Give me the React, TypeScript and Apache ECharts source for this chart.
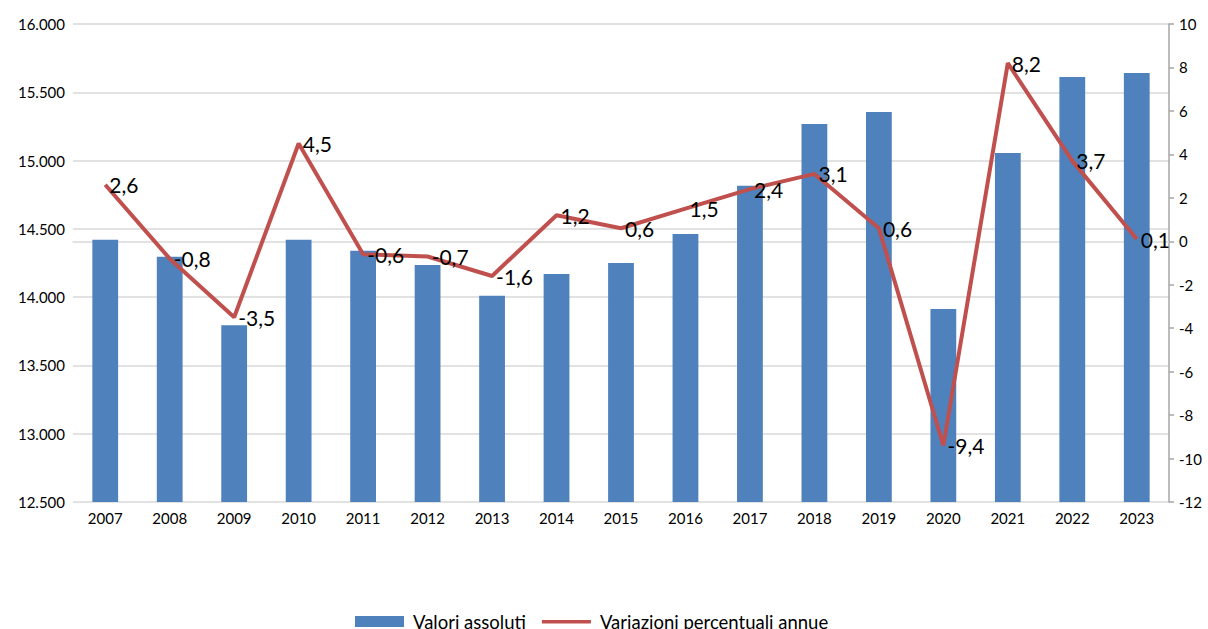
import React, { useEffect, useRef } from "react";
import * as echarts from "echarts";

const years = ["2007","2008","2009","2010","2011","2012","2013","2014","2015","2016","2017","2018","2019","2020","2021","2022","2023"];
const valoriAssoluti = [14420,14295,13795,14420,14340,14235,14010,14170,14250,14462,14815,15268,15356,13913,15055,15612,15641];
const variazioni = [2.6,-0.8,-3.5,4.5,-0.6,-0.7,-1.6,1.2,0.6,1.5,2.4,3.1,0.6,-9.4,8.2,3.7,0.1];
const leftTicks = { min: 12500, max: 16000, interval: 500 };
const rightTicks = { min: -12, max: 10, interval: 2 };

const fmtThousands = (v: number) => {
  const s = Math.round(v).toString();
  return s.replace(/\B(?=(\d{3})+(?!\d))/g, ".");
};

export default function App() {
  const ref = useRef<HTMLDivElement>(null);
  useEffect(() => {
    if (!ref.current) return;
    const chart = echarts.init(ref.current, null, { renderer: "svg" });
    const font = "Lato";
    chart.setOption({
      animation: false,
      backgroundColor: "#ffffff",
      textStyle: { fontFamily: font },
      grid: { left: 73, right: 39, top: 24, bottom: 127, containLabel: false },
      legend: {
        bottom: -2,
        left: 355,
        padding: 0,
        itemWidth: 49,
        itemHeight: 11,
        itemGap: 16,
        textStyle: { fontFamily: font, fontSize: 18.5, color: "#000", padding: [0, 0, 0, 4] },
        data: [
          { name: "Valori assoluti", icon: "rect" },
          {
            name: "Variazioni percentuali annue",
            icon: "path://M0,0 M0,4 L49,4 L49,7.5 L0,7.5 Z M49,11",
          },
        ],
      },
      xAxis: {
        type: "category",
        data: years,
        axisLine: { show: true, lineStyle: { color: "#D9D9D9", width: 1.5 } },
        axisTick: { show: false },
        axisLabel: { color: "#000", fontSize: 15, fontFamily: font, margin: 8 },
      },
      yAxis: [
        {
          type: "value",
          min: leftTicks.min,
          max: leftTicks.max,
          interval: leftTicks.interval,
          axisLine: { show: false },
          axisTick: { show: false },
          splitLine: { show: true, lineStyle: { color: "#D9D9D9", width: 1.5 } },
          axisLabel: { color: "#000", fontSize: 15, fontFamily: font, margin: 8, formatter: fmtThousands },
        },
        {
          type: "value",
          position: "right",
          min: rightTicks.min,
          max: rightTicks.max,
          interval: rightTicks.interval,
          axisLine: { show: true, lineStyle: { color: "#A6A6A6", width: 1.5 } },
          axisTick: { show: true, inside: false, length: 5, lineStyle: { color: "#A6A6A6", width: 1.5 } },
          splitLine: { show: false },
          axisLabel: { color: "#000", fontSize: 15, fontFamily: font, margin: 10 },
        },
      ],
      series: [
        {
          name: "Valori assoluti",
          type: "bar",
          data: valoriAssoluti,
          yAxisIndex: 0,
          barWidth: "40%",
          itemStyle: { color: "#4F81BD" },
        },
        {
          name: "Variazioni percentuali annue",
          type: "line",
          data: variazioni,
          yAxisIndex: 1,
          symbol: "circle",
          symbolSize: 0.1,
          showSymbol: true,
          lineStyle: { color: "#C0504D", width: 4 },
          itemStyle: { color: "#C0504D" },
          label: {
            show: true,
            position: "right",
            distance: 4,
            color: "#000",
            fontSize: 21,
            fontFamily: font,
            formatter: (p: any) => String(p.value).replace(".", ","),
          },
        },
      ],
    });
    return () => chart.dispose();
  }, []);
  return (
    <div
      ref={ref}
      style={{ position: "fixed", left: 0, top: 0, width: 1208, height: 629 }}
    />
  );
}
